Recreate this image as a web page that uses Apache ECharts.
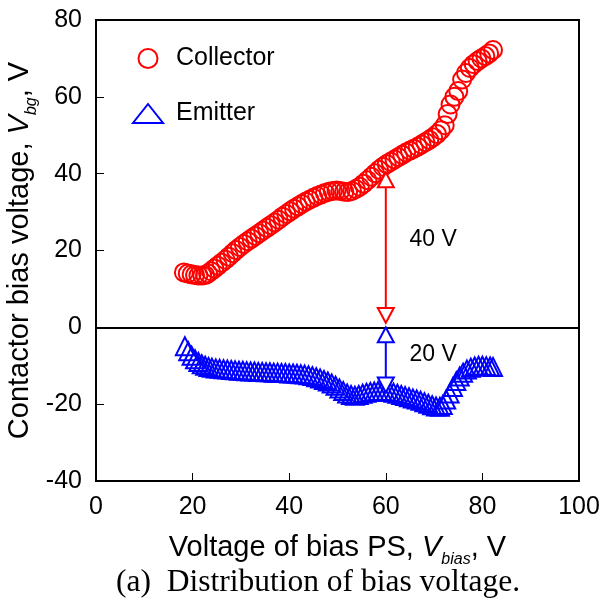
<!DOCTYPE html>
<html>
<head>
<meta charset="utf-8">
<script src="https://cdn.jsdelivr.net/npm/echarts@6/dist/echarts.min.js"></script>
<style>
  html, body { margin: 0; background: #fff; }
  #main { width: 600px; height: 601px; }
</style>
</head>
<body>
<div id="main"></div>
<script>
// collector bias voltage vs bias PS voltage [Vbias, Vbg]
var collectorPts = [
  [18.2, 14.3], [19.0, 14.0], [19.8, 13.8], [20.5, 13.6], [21.2, 13.5], [22.0, 13.5],
  [22.6, 13.6], [23.2, 14.0], [23.8, 14.6], [24.5, 15.3], [25.2, 16.0], [26.0, 16.8],
  [26.8, 17.6], [27.5, 18.4], [28.3, 19.3], [29.0, 20.1], [29.8, 20.9], [30.6, 21.7],
  [31.4, 22.4], [32.2, 23.1], [33.0, 23.8], [33.8, 24.5], [34.6, 25.2], [35.4, 25.9],
  [36.2, 26.6], [37.0, 27.3], [37.8, 28.0], [38.6, 28.8], [39.4, 29.5], [40.2, 30.2],
  [41.0, 30.9], [41.8, 31.5], [42.6, 32.1], [43.4, 32.7], [44.2, 33.2], [45.0, 33.7],
  [45.8, 34.2], [46.6, 34.6], [47.4, 35.0], [48.2, 35.3], [49.0, 35.5], [49.8, 35.6],
  [50.6, 35.5], [51.4, 35.3], [52.2, 35.2], [53.0, 35.5], [53.8, 36.0], [54.6, 36.6],
  [55.4, 37.4], [56.2, 38.3], [57.0, 39.2], [57.8, 40.1], [58.6, 41.0], [59.4, 41.8],
  [60.2, 42.5], [61.0, 43.1], [61.8, 43.7], [62.6, 44.3], [63.4, 44.9], [64.2, 45.5],
  [65.0, 46.0], [65.8, 46.5], [66.6, 47.0], [67.4, 47.6], [68.2, 48.2], [69.0, 48.8],
  [69.8, 49.5], [70.6, 50.3], [71.4, 51.3], [72.2, 52.6], [72.8, 55.5], [73.4, 58.0],
  [74.2, 60.0], [75.0, 61.5], [75.8, 64.5], [76.6, 66.2], [77.4, 67.5], [78.2, 68.5],
  [79.0, 69.3], [79.8, 70.0], [80.6, 70.6], [81.4, 71.3], [82.2, 72.2]
];

// emitter bias voltage
var emitterPts = [
  [18.4, -4.9], [19.1, -6.2], [19.8, -7.4], [20.5, -8.3], [21.2, -9.0], [21.9, -9.6],
  [22.6, -10.0], [23.3, -10.3], [24.0, -10.5], [24.8, -10.7], [25.6, -10.8], [26.4, -10.9],
  [27.2, -11.0], [28.0, -11.1], [28.8, -11.2], [29.6, -11.3], [30.4, -11.3], [31.2, -11.4],
  [32.0, -11.5], [32.8, -11.5], [33.6, -11.6], [34.4, -11.6], [35.2, -11.7], [36.0, -11.7],
  [36.8, -11.8], [37.6, -11.8], [38.4, -11.9], [39.2, -11.9], [40.0, -12.0], [40.8, -12.0],
  [41.6, -12.1], [42.4, -12.2], [43.2, -12.3], [44.0, -12.5], [44.8, -12.7], [45.6, -13.0],
  [46.4, -13.3], [47.2, -13.7], [48.0, -14.1], [48.8, -14.6], [49.6, -15.2], [50.4, -15.9],
  [51.2, -16.6], [52.0, -17.2], [52.8, -17.6], [53.6, -17.8], [54.4, -17.6], [55.2, -17.3],
  [56.0, -17.0], [56.8, -16.8], [57.6, -16.7], [58.4, -16.6], [59.2, -16.6], [60.0, -16.7],
  [60.8, -16.8], [61.6, -17.0], [62.4, -17.3], [63.2, -17.6], [64.0, -17.9], [64.8, -18.2],
  [65.6, -18.5], [66.4, -18.8], [67.2, -19.1], [68.0, -19.5], [68.8, -19.9], [69.6, -20.3],
  [70.4, -20.6], [71.2, -20.7], [71.8, -20.2], [72.5, -18.8], [73.2, -17.2], [73.9, -15.5],
  [74.6, -14.0], [75.3, -12.8], [76.0, -11.8], [76.8, -11.0], [77.6, -10.5], [78.4, -10.2],
  [79.2, -10.0], [80.0, -10.0], [80.8, -10.1], [81.6, -10.2], [82.2, -10.3]
];

// double arrows at Vbias = 60 V (top end, bottom end)
var redArrow = [[60, 38.4], [60, 3.1]];
var blueArrow = [[60, -1.95], [60, -15.0]];
var arrowLabels = [[69.8, 22.9, '40 V'], [69.8, -7.0, '20 V']];

var xTicks = { min: 0, max: 100, interval: 20 };
var yTicks = { min: -40, max: 80, interval: 20 };

var FONT = '"Liberation Sans", Arial, sans-serif';

function arrowData(pts) {
  return [
    { value: pts[0], symbol: 'triangle', symbolRotate: 0 },
    { value: pts[1], symbol: 'triangle', symbolRotate: 180 }
  ];
}

// subscript: main text top-aligned, sub token bottom-aligned in a taller line
var nameRich = {
  n: { fontFamily: FONT, fontSize: 29, color: '#000', lineHeight: 30, verticalAlign: 'top' },
  i: { fontFamily: FONT, fontSize: 29, color: '#000', fontStyle: 'italic', lineHeight: 30, verticalAlign: 'top' },
  s: { fontFamily: FONT, fontSize: 16, color: '#000', fontStyle: 'italic', lineHeight: 35, verticalAlign: 'bottom' }
};

var myChart = echarts.init(document.getElementById('main'));

var option = {
  animation: false,
  backgroundColor: '#fff',
  title: {
    text: '(a)  Distribution of bias voltage.',
    left: 111,
    top: 562,
    textStyle: {
      fontFamily: '"Liberation Serif", "Times New Roman", serif',
      fontSize: 31.5,
      fontWeight: 'normal',
      color: '#000'
    }
  },
  legend: {
    orient: 'vertical',
    left: 127,
    top: 41,
    itemWidth: 30,
    itemHeight: 19,
    itemGap: 30,
    textStyle: { fontFamily: FONT, fontSize: 25, color: '#000', padding: [0, 0, 0, 8] },
    data: [
      { name: 'Collector', icon: 'circle', itemStyle: { color: 'rgba(0,0,0,0)', borderColor: '#ff0000', borderWidth: 2, opacity: 1 } },
      { name: 'Emitter', icon: 'triangle', itemStyle: { color: 'rgba(0,0,0,0)', borderColor: '#0000ff', borderWidth: 2, opacity: 1 } }
    ]
  },
  grid: {
    left: 96,
    right: 21,
    top: 20,
    bottom: 120,
    outerBoundsMode: 'none',
    containLabel: false,
    show: true,
    borderColor: '#000',
    borderWidth: 2,
    backgroundColor: 'rgba(0,0,0,0)'
  },
  xAxis: {
    type: 'value',
    min: xTicks.min,
    max: xTicks.max,
    interval: xTicks.interval,
    axisLine: { onZero: false, lineStyle: { color: '#000', width: 2 } },
    axisTick: { inside: true, length: 8, lineStyle: { color: '#000', width: 1 } },
    splitLine: { show: false },
    axisLabel: { fontFamily: FONT, fontSize: 25, color: '#000', margin: 14 },
    name: '{n|Voltage of bias PS, }{i|V}{s|bias}{n|, V}',
    nameLocation: 'middle',
    nameMoveOverlap: false,
    nameGap: 52,
    nameTextStyle: { fontFamily: FONT, fontSize: 29, color: '#000', rich: nameRich }
  },
  yAxis: {
    type: 'value',
    min: yTicks.min,
    max: yTicks.max,
    interval: yTicks.interval,
    axisLine: { onZero: false, lineStyle: { color: '#000', width: 2 } },
    axisTick: { inside: true, length: 8, lineStyle: { color: '#000', width: 1 } },
    splitLine: { show: false },
    axisLabel: { fontFamily: FONT, fontSize: 25, color: '#000', margin: 14 },
    name: '{n|Contactor bias voltage, }{i|V}{s|bg}{n|, V}',
    nameLocation: 'middle',
    nameRotate: 90,
    nameMoveOverlap: false,
    nameGap: 56,
    nameTextStyle: { fontFamily: FONT, fontSize: 29, color: '#000', rich: nameRich }
  },
  series: [
    {
      name: 'Collector',
      type: 'scatter',
      symbol: 'circle',
      symbolSize: 18,
      itemStyle: { color: 'rgba(0,0,0,0)', borderColor: '#ff0000', borderWidth: 2, opacity: 1 },
      data: collectorPts,
      markLine: {
        silent: true,
        symbol: 'none',
        label: { show: false },
        lineStyle: { color: '#000', width: 2, type: 'solid' },
        data: [{ yAxis: 0 }]
      }
    },
    {
      name: 'Emitter',
      type: 'scatter',
      symbol: 'triangle',
      symbolSize: 18,
      itemStyle: { color: 'rgba(0,0,0,0)', borderColor: '#0000ff', borderWidth: 2, opacity: 1 },
      data: emitterPts
    },
    {
      name: 'arrow40',
      type: 'line',
      z: 5,
      symbolSize: [16, 15],
      showAllSymbol: true,
      lineStyle: { color: '#ff0000', width: 2 },
      itemStyle: { color: '#fff', borderColor: '#ff0000', borderWidth: 2, opacity: 1 },
      data: arrowData(redArrow)
    },
    {
      name: 'arrow20',
      type: 'line',
      z: 5,
      symbolSize: [16, 15],
      showAllSymbol: true,
      lineStyle: { color: '#0000ff', width: 2 },
      itemStyle: { color: '#fff', borderColor: '#0000ff', borderWidth: 2, opacity: 1 },
      data: arrowData(blueArrow)
    },
    {
      name: 'labels',
      type: 'scatter',
      symbolSize: 0,
      silent: true,
      itemStyle: { opacity: 1 },
      label: {
        show: true,
        position: 'inside',
        fontFamily: FONT,
        fontSize: 23,
        color: '#000',
        textBorderWidth: 0,
        formatter: function (p) { return p.data[2]; }
      },
      data: arrowLabels
    }
  ]
};

myChart.setOption(option);
</script>
</body>
</html>
